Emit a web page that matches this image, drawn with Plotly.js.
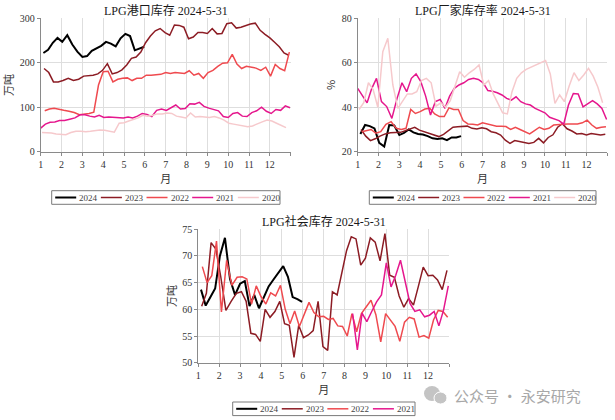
<!DOCTYPE html>
<html><head><meta charset="utf-8">
<script src="https://cdn.plot.ly/plotly-3.0.1.min.js"></script>
<style>html,body{margin:0;padding:0;background:#fff;}</style>
</head><body>
<div id="chart" style="width:615px;height:420px"></div>
<script>
// ---------- data ----------
const years = ['2024', '2023', '2022', '2021', '2020'];
// first weekly (Friday) observation of each year
const firstDate = { '2024': [2024, 1, 5], '2023': [2023, 1, 6], '2022': [2022, 1, 7], '2021': [2021, 1, 1], '2020': [2020, 1, 3] };
const social2021First = [2021, 8, 13];
const monthTicks = [1, 2, 3, 4, 5, 6, 7, 8, 9, 10, 11, 12, 13];
const monthLabels = ['1', '2', '3', '4', '5', '6', '7', '8', '9', '10', '11', '12', ''];

// LPG 港口库存 (万吨)
const port2024 = [222,229,245,256,247,262,241,225,213,215,227,232,238,247,243,237,255,265,260,228,232,236];
const port2023 = [187,178,157,157,160,165,160,163,170,171,172,175,183,198,175,178,184,195,210,213,224,245,260,272,277,268,262,285,284,280,254,258,268,268,266,277,265,266,288,290,278,280,284,287,289,273,264,256,246,236,222,217];
const port2022 = [92,96,97.5,96,93,91,88,83,84,86,89,150,180,181,157,163,165,166,160,165,165,172,172,173,174,178,176,178,177,176,182,172,176,165,178,183,192,199,200,219,197,187,192,190,188,183,190,170,196,187,182,224];
const port2021 = [53,62,66,67,70,70,73,76,83,83,80,78,82,77,78,77,76,76,78,76,80,86,84,79,93,96,93,100,105,96,97,108,107,111,102,98,95,92,79,77,86,88,80,79,88,92,100,91,86,95,93,103,99];
const port2020 = [43,43,42,40,39,38,43,46,46,45,46,47,49,48,46,44,64,65,69,72,76,82,80,82,85,85,87,86,80,78,76,87,78,79,78,77,79,76,71,64,62,60,58,56,58,63,67,71,69,64,59,54];

// LPG 厂家库存率 (%)
const rate2024 = [28,32,31.5,30.5,24,22.3,32,31.8,27.5,28.5,30,28.7,28,27.7,27,26,25.7,26,25.2,26.4,26.4,27];
const rate2023 = [30,27,25,25.8,27,28,28.5,28.5,28.7,29.5,30.3,31,29.7,29,28.5,27.8,26.8,27.8,29.5,31,31.2,31.5,31.5,30.5,30.2,30.8,30.3,29,28.5,27.5,25.2,23.7,25,24.6,24.2,23.7,24.2,26,24,26.4,27.6,31,32.6,30.3,29.3,28,28.2,27.5,28.2,28,27.5,27.8];
const rate2022 = [29,29.5,30,28.3,29,32.3,33.5,30.5,30,30.5,39,37.2,38,39.2,39.5,37,35.8,35.8,39.7,39,39,34,32.5,32.3,32,33,32.5,32,31.5,31.5,31.3,30,31,30,29,28,29.5,31,30,30.5,32,32.3,32.3,32.5,32.5,32.5,33,34.2,32,30.5,31,31.2];
const rate2021 = [48.5,45,42,48.5,53,42.5,40.3,35,44,51,47,53,55,51.5,45,36.5,42.5,43.5,39.5,45,48.5,50,51,52.5,53,52.5,51,47.5,47.2,46.5,45.5,44,43.2,44.7,42.5,41.5,41,39.5,38.5,37.5,35.5,34.8,34,32.4,41,46.2,46,40.2,41.7,43,41.5,39.5,34.5];
const rate2020 = [39,42,51,48,40,65,71,50,39.5,43,46,46,47,52,53,51,40.5,42,40,43,50,56,53.5,55.5,57,59,50,52,46,42,37.5,37,47,53,55.5,57,58,59,60,61,55,41.7,45.5,42.5,49.5,55.5,52,54.5,57.5,54,49,42];

// LPG 社会库存 (万吨)
const social2024 = [63.7,60.7,62.3,63.9,70,73.4,65.7,62.7,64.8,65.3,60.6,62.7,60.2,62.3,64.3,65.6,66.9,68.1,66.1,62.3,61.9,61.4];
const social2023 = [60.6,63,72.5,71.3,66.2,59.8,61.5,63,63.3,61.5,55.5,55.3,54,60,58.5,59.6,61.5,57.3,57,51,57,54.7,55.2,56,61.5,53,52.3,63.3,62.7,67,71,73.6,73.2,68.3,69.6,73.4,72.6,69.1,74.2,66.4,66,62.5,60.4,62,60.8,64.3,67.9,66.3,66.4,65.5,63.7,67.3];
const social2022 = [68,65,66.3,72.8,59.5,69.2,64.5,66,66.1,65.7,61,64.4,62.4,61,63.1,62.5,64.5,60,57.3,59.7,56.8,59,61.3,59.4,58.6,58.7,58.1,58.3,56.9,56.8,55,59.2,55.8,59.2,60.5,61.7,59,53.9,59.2,58,56.8,54,57.6,58.5,58.2,54.8,55.1,54.6,58,59.8,59.6,58.5];
const social2021 = [59.2,52.4,59.3,57.7,59.6,61.4,62.7,68.7,64.2,66.4,69.2,65.2,61.1,59.6,59.9,58.6,58.9,59.6,56.9,59.9,64.4];

// ---------- styles ----------
const colors = { '2024': '#000000', '2023': '#8c1c24', '2022': '#ef4a4f', '2021': '#e5178d', '2020': '#f6c9cc' };
const widths = { '2024': 2, '2023': 1.5, '2022': 1.5, '2021': 1.5, '2020': 1.5 };
const SERIF = 'Liberation Serif, "Noto Sans CJK SC", serif';
const CJK = '"Noto Sans CJK SC", "Liberation Serif", sans-serif';
const W = 615, H = 420;

// month position (month + fraction of month) of weekly observations
function weekX(start, n) {
  const out = [];
  for (let i = 0; i < n; i++) {
    const d = new Date(Date.UTC(start[0], start[1] - 1, start[2] + 7 * i));
    const m = d.getUTCMonth();
    const dim = new Date(Date.UTC(d.getUTCFullYear(), m + 1, 0)).getUTCDate();
    out.push(m + 1 + (d.getUTCDate() - 1) / dim);
  }
  return out;
}

const portData = { '2024': port2024, '2023': port2023, '2022': port2022, '2021': port2021, '2020': port2020 };
const rateData = { '2024': rate2024, '2023': rate2023, '2022': rate2022, '2021': rate2021, '2020': rate2020 };
const socialData = { '2024': social2024, '2023': social2023, '2022': social2022, '2021': social2021 };
const socialStart = { '2024': firstDate['2024'], '2023': firstDate['2023'], '2022': firstDate['2022'], '2021': social2021First };

const traces = [];
function addTraces(dataMap, startMap, xa, ya) {
  Object.keys(dataMap).slice().reverse().forEach(function (yr) {
    const ys = dataMap[yr];
    traces.push({
      type: 'scatter', mode: 'lines', name: yr, showlegend: false,
      x: weekX(startMap[yr], ys.length), y: ys, xaxis: xa, yaxis: ya,
      line: { color: colors[yr], width: widths[yr] },
      hoverinfo: 'x+y+name'
    });
  });
}
addTraces(portData, firstDate, 'x', 'y');
addTraces(rateData, firstDate, 'x2', 'y2');
addTraces(socialData, socialStart, 'x3', 'y3');

// ---------- layout helpers ----------
const px = v => v / W;
const py = v => 1 - v / H;
const tickFont = { family: SERIF, size: 10, color: '#333' };
function xAxis(d0, d1, anchor) {
  return {
    domain: [px(d0), px(d1)], anchor: anchor, range: [1, 13],
    tickmode: 'array', tickvals: monthTicks, ticktext: monthLabels,
    showgrid: true, gridcolor: '#dedede', gridwidth: 1, zeroline: false,
    showline: true, linecolor: '#8a8a8a', linewidth: 1,
    ticks: 'outside', ticklen: 3, tickcolor: '#8a8a8a', tickfont: tickFont,
    title: { text: '月', font: { family: CJK, size: 11, color: '#333' }, standoff: 4 },
    automargin: false, fixedrange: true
  };
}
function yAxis(d0, d1, anchor, rng, dt, title) {
  return {
    domain: [py(d1), py(d0)], anchor: anchor, range: rng, dtick: dt, tick0: rng[0],
    showgrid: true, gridcolor: '#dedede', gridwidth: 1, zeroline: false,
    showline: true, linecolor: '#8a8a8a', linewidth: 1,
    ticks: 'outside', ticklen: 3, tickcolor: '#8a8a8a', tickfont: tickFont,
    title: { text: title, font: { family: CJK, size: 11, color: '#333' }, standoff: 3 },
    automargin: false, fixedrange: true
  };
}

const annotations = [];
const shapes = [];
function title(text, cx, cy) {
  annotations.push({ text: text, xref: 'paper', yref: 'paper', x: px(cx), y: py(cy),
    xanchor: 'center', yanchor: 'middle', showarrow: false,
    font: { family: SERIF, size: 12, color: '#1a1a1a' } });
}
title('LPG港口库存 2024-5-31', 165.7, 10);
title('LPG厂家库存率 2024-5-31', 482.5, 10);
title('LPG社会库存 2024-5-31', 323.6, 221);

function legendBox(left, right, cy, yrs) {
  const h = 13.6;
  shapes.push({ type: 'rect', xref: 'paper', yref: 'paper', x0: px(left), x1: px(right), y0: py(cy + h / 2), y1: py(cy - h / 2),
    line: { color: '#7a7a7a', width: 1 }, fillcolor: 'rgba(0,0,0,0)' });
  const pitch = (right - left) / yrs.length;
  yrs.forEach(function (yr, k) {
    const x0 = left + 3.5 + k * pitch;
    shapes.push({ type: 'line', xref: 'paper', yref: 'paper', x0: px(x0), x1: px(x0 + 21), y0: py(cy), y1: py(cy),
      line: { color: colors[yr], width: widths[yr] } });
    annotations.push({ text: yr, xref: 'paper', yref: 'paper', x: px(x0 + 22), y: py(cy), xanchor: 'left', yanchor: 'middle',
      showarrow: false, font: { family: SERIF, size: 9, color: '#444' } });
  });
}
legendBox(51.7, 280, 197.5, years);
legendBox(369.3, 596, 197.5, years);
legendBox(232.7, 415, 408.8, ['2024', '2023', '2022', '2021']);

// watermark
shapes.push({ type: 'circle', xref: 'paper', yref: 'paper', x0: px(424), x1: px(440), y0: py(401), y1: py(386), fillcolor: '#c4c4c4', line: { width: 0 } });
shapes.push({ type: 'circle', xref: 'paper', yref: 'paper', x0: px(434), x1: px(447), y0: py(404), y1: py(392), fillcolor: '#c4c4c4', line: { color: '#fff', width: 1 } });
annotations.push({ text: '公众号 · 永安研究', xref: 'paper', yref: 'paper', x: px(452), y: py(395), xanchor: 'left', yanchor: 'middle',
  showarrow: false, font: { family: CJK, size: 15, color: '#a8a8a8' } });

const layout = {
  width: W, height: H, margin: { l: 0, r: 0, t: 0, b: 0 },
  paper_bgcolor: '#fff', plot_bgcolor: '#fff', showlegend: false,
  xaxis: xAxis(40.7, 290.7, 'y'),
  yaxis: yAxis(18.3, 151.7, 'x', [0, 300], 100, '万吨'),
  xaxis2: xAxis(357.7, 607.3, 'y2'),
  yaxis2: yAxis(18.3, 151.7, 'x2', [20, 80], 20, '%'),
  xaxis3: xAxis(198.3, 449, 'y3'),
  yaxis3: yAxis(229.3, 362.7, 'x3', [50, 75], 5, '万吨'),
  annotations: annotations, shapes: shapes
};

Plotly.newPlot('chart', traces, layout, { displayModeBar: false, staticPlot: true });
</script>
</body></html>
